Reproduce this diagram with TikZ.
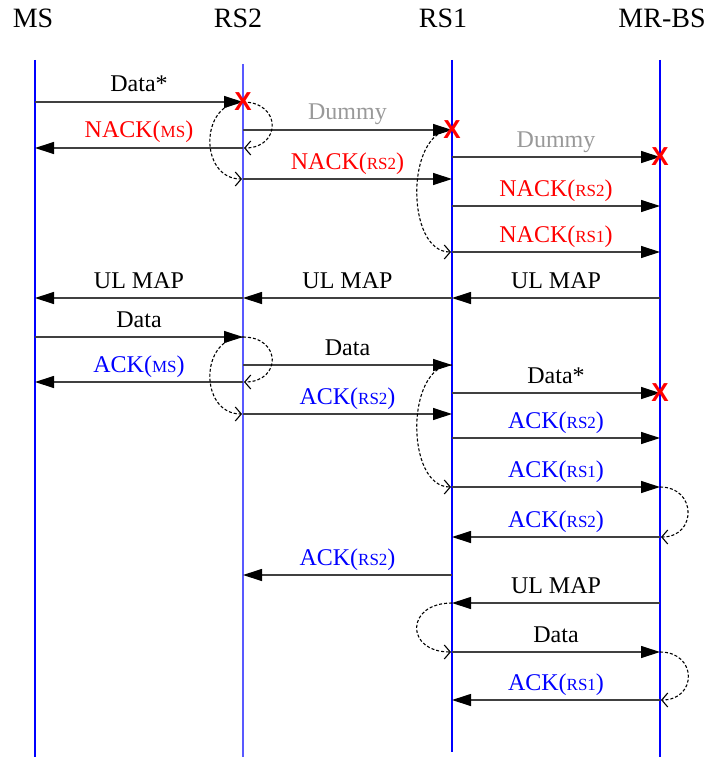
\documentclass[tikz,border=0pt]{standalone}
\usepackage{fontspec}
\setmainfont{Liberation Serif}
\newfontfamily\lostfont{Liberation Sans}
\usetikzlibrary{arrows.meta}

\newcommand\smtag[1]{{\fontsize{17}{20}\selectfont #1}}
\newcommand\nack[1]{\textcolor{red}{NACK(\smtag{#1})}}
\newcommand\ack[1]{\textcolor{blue}{ACK(\smtag{#1})}}

\begin{document}
\begin{tikzpicture}[x=1pt, y=1pt,
  head/.style={font=\fontsize{28}{32}\selectfont, anchor=base, inner sep=0pt},
  life/.style={line width=1.5pt},
  msg/.style={-{Triangle[length=19pt,width=12pt,color=black]}, draw=black!75, line width=1.2pt},
  msg label/.style={font=\fontsize{24}{28}\selectfont, anchor=base, inner sep=0pt, yshift=10pt},
  relay/.style={-{Straight Barb[length=6pt,width=14pt]}, dash pattern=on 3pt off 2pt, line width=1.1pt, shorten >=1pt},
  lost/.style={font=\lostfont\bfseries\fontsize{26}{28}\selectfont, text=red, inner sep=0pt}]

\useasboundingbox (0,0) rectangle (710,-757);

% stations and their time lines
\foreach \n/\x/\hx/\t/\c/\ty/\by in {ms/35/33/MS/blue/60/757, rs2/243/238/RS2/blue!65/64/757,
    rs1/452/443/RS1/blue/60/752, bs/660/662/MR-BS/blue/60/757} {
  \node [head] (\n) at (\hx,-28) {\t};
  \coordinate (\n-top) at (\x,-\ty);
  \coordinate (\n-bot) at (\x,-\by);
  \draw [life, draw=\c] (\n-top) -- (\n-bot);
}

% messages
\foreach \a/\b/\y/\t [count=\i] in {
    ms/rs2/102/{Data*},
    rs2/ms/148/{\nack{MS}},
    rs2/rs1/130/{\textcolor{black!40}{Dummy}},
    rs2/rs1/179/{\nack{RS2}},
    rs1/bs/157/{\textcolor{black!40}{Dummy}},
    rs1/bs/206/{\nack{RS2}},
    rs1/bs/252/{\nack{RS1}},
    bs/rs1/298/{UL MAP},
    rs1/rs2/298/{UL MAP},
    rs2/ms/298/{UL MAP},
    ms/rs2/337/{Data},
    rs2/ms/382/{\ack{MS}},
    rs2/rs1/365/{Data},
    rs2/rs1/414/{\ack{RS2}},
    rs1/bs/393/{Data*},
    rs1/bs/438/{\ack{RS2}},
    rs1/bs/487/{\ack{RS1}},
    bs/rs1/537/{\ack{RS2}},
    rs1/rs2/575/{\ack{RS2}},
    bs/rs1/603/{UL MAP},
    rs1/bs/652/{Data},
    bs/rs1/700/{\ack{RS1}}} {
  \coordinate (m\i-s) at (\a-top |- 0,-\y);
  \coordinate (m\i-e) at (\b-top |- 0,-\y);
  \draw [msg] (m\i-s) -- node [msg label] {\t} (m\i-e);
}

% relaying
\draw [relay] (m1-e) to [out=0, in=0, looseness=2.15] (m2-s);
\draw [relay] (m1-e) to [out=180, in=180, looseness=1.46] (m4-s);
\draw [relay] (m3-e) to [out=180, in=180, looseness=0.98] (m7-s);
\draw [relay] (m11-e) to [out=0, in=0, looseness=2.2] (m12-s);
\draw [relay] (m11-e) to [out=180, in=180, looseness=1.46] (m14-s);
\draw [relay] (m13-e) to [out=180, in=180, looseness=0.98] (m17-s);
\draw [relay] (m17-e) to [out=0, in=0, looseness=1.9] (m18-s);
\draw [relay] (m20-e) to [out=180, in=180, looseness=2.45] (m21-s);
\draw [relay] (m21-e) to [out=0, in=0, looseness=2] (m22-s);

\foreach \i in {1,3,5,15}
  \node [lost] (lost-\i) at (m\i-e) {X};

\end{tikzpicture}
\end{document}
